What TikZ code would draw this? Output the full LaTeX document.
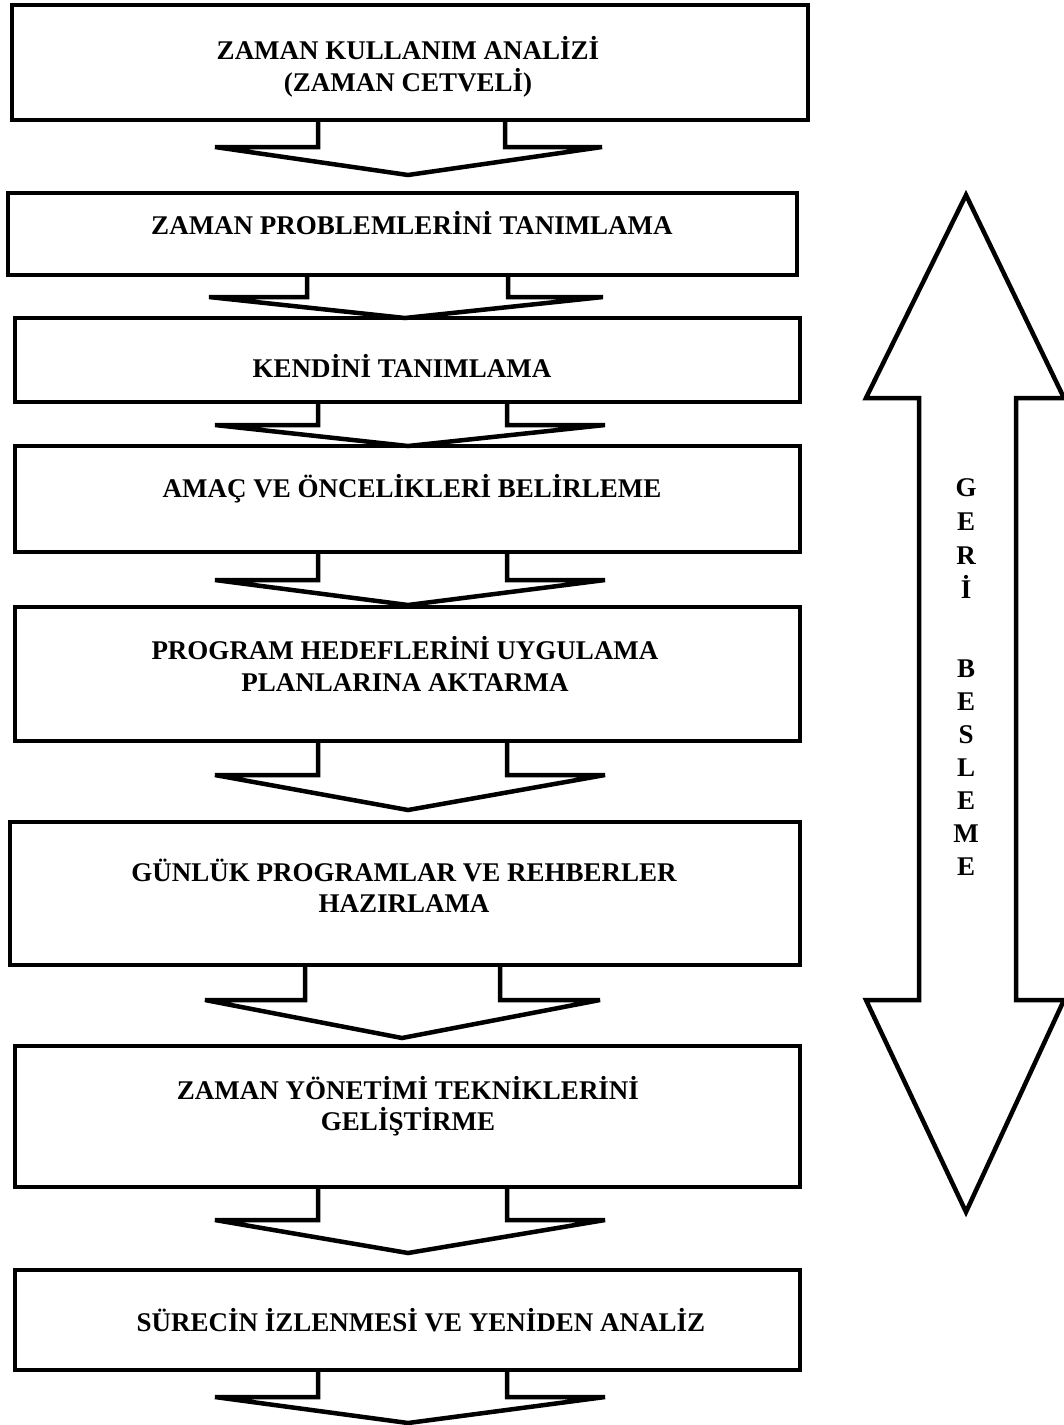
\documentclass[tikz,border=0pt]{standalone}
\usepackage{fontspec}
\setmainfont{Liberation Serif}
\begin{document}
\begin{tikzpicture}[x=1pt,y=-1pt]
\tikzset{
  stepbox/.style={draw, line width=4.5pt, rectangle, inner sep=0pt, outer sep=0pt},
  flow/.style={draw, line width=4.5pt, line join=miter},
  boxtext/.style={font=\bfseries\fontsize{27}{32}\selectfont, anchor=base, inner sep=0pt},
}
\useasboundingbox (0,0) rectangle (1064,1425);

% process boxes
\node[stepbox, minimum width=796pt, minimum height=115pt] (b1) at (410,62.5) {};
\node[stepbox, minimum width=789pt, minimum height=82pt]  (b2) at (402.5,234) {};
\node[stepbox, minimum width=785pt, minimum height=84pt]  (b3) at (407.5,360) {};
\node[stepbox, minimum width=785pt, minimum height=106pt] (b4) at (407.5,499) {};
\node[stepbox, minimum width=785pt, minimum height=134pt] (b5) at (407.5,674) {};
\node[stepbox, minimum width=790pt, minimum height=143pt] (b6) at (405,893.5) {};
\node[stepbox, minimum width=785pt, minimum height=141pt] (b7) at (407.5,1116.5) {};
\node[stepbox, minimum width=785pt, minimum height=100pt] (b8) at (407.5,1320) {};

% box texts
\node[boxtext] (t1a) at (408,59)   {ZAMAN KULLANIM ANALİZİ};
\node[boxtext] (t1b) at (408,91)   {(ZAMAN CETVELİ)};
\node[boxtext] (t2)  at (412,234)  {ZAMAN PROBLEMLERİNİ TANIMLAMA};
\node[boxtext] (t3)  at (402,377)  {KENDİNİ TANIMLAMA};
\node[boxtext] (t4)  at (412,497)  {AMAÇ VE ÖNCELİKLERİ BELİRLEME};
\node[boxtext] (t5a) at (405,659)  {PROGRAM HEDEFLERİNİ UYGULAMA};
\node[boxtext] (t5b) at (405,691)  {PLANLARINA AKTARMA};
\node[boxtext] (t6a) at (404,881)  {GÜNLÜK PROGRAMLAR VE REHBERLER};
\node[boxtext] (t6b) at (404,912)  {HAZIRLAMA};
\node[boxtext] (t7a) at (408,1099) {ZAMAN YÖNETİMİ TEKNİKLERİNİ};
\node[boxtext] (t7b) at (408,1130) {GELİŞTİRME};
\node[boxtext] (t8)  at (421,1331) {SÜRECİN İZLENMESİ VE YENİDEN ANALİZ};

% block arrows between the boxes
% #1 box, #2/#3 shaft offsets from box centre, #4/#5 flange x, #6 flange y, #7 tip coordinate
\newcommand\flowarrow[7]{%
  \draw[flow] ([xshift=#2pt]#1.south) |- (#4,#6) -- (#7) -- (#5,#6) -| ([xshift=#3pt]#1.south);
}
\coordinate (a1) at (408,175);
\coordinate (a2) at (405,318);
\coordinate (a3) at (408,446);
\coordinate (a4) at (408,605);
\coordinate (a5) at (408,810);
\coordinate (a6) at (402,1038);
\coordinate (a7) at (408,1253);
\coordinate (a8) at (408,1423);
\flowarrow{b1}{-92}{95}{215}{602}{147}{a1}
\flowarrow{b2}{-95.5}{105.5}{209}{603}{297}{a2}
\flowarrow{b3}{-89.5}{99.5}{215}{605}{425}{a3}
\flowarrow{b4}{-89.5}{99.5}{215}{605}{580}{a4}
\flowarrow{b5}{-89.5}{99.5}{215}{605}{775}{a5}
\flowarrow{b6}{-100}{95}{205}{600}{1000}{a6}
\flowarrow{b7}{-89.5}{99.5}{215}{605}{1220}{a7}
\flowarrow{b8}{-89.5}{99.5}{215}{605}{1397}{a8}

% feedback double arrow
\draw[flow] (966,195) -- (1064,398) -- (1016,398) -- (1016,1000) -- (1064,1000)
  -- (966,1212) -- (866,1000) -- (919,1000) -- (919,398) -- (866,398) -- cycle;
\foreach \ch/\yy [count=\i] in {G/487,E/521,R/555,İ/589,B/668,E/701,S/734,L/767,E/800,M/833,E/866}
  \node[boxtext] (g\i) at (966,\yy+9) {\ch};
\end{tikzpicture}
\end{document}
